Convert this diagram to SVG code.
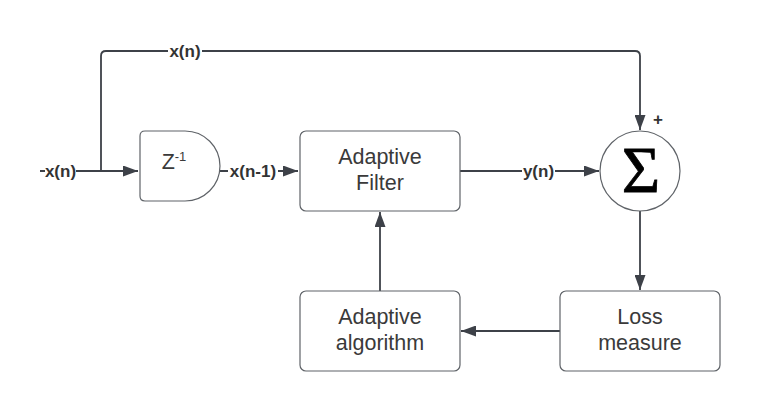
<svg xmlns="http://www.w3.org/2000/svg" width="760" height="411" viewBox="0 0 760 411">
<style>
.box{fill:#fff;stroke:#5f6368;stroke-width:1.2}
.t{font-family:"Liberation Sans",Arial,sans-serif;font-size:21.5px;fill:#3a3a3a;text-anchor:middle}
.lbl{font-family:"Liberation Sans",Arial,sans-serif;font-size:17px;font-weight:bold;fill:#333;text-anchor:middle}
.c{fill:none;stroke:#3d4148;stroke-width:1.8}
.bg{fill:#fff}
</style>
<defs>
<marker id="ah" markerWidth="16" markerHeight="11" refX="15" refY="5.5" orient="auto" markerUnits="userSpaceOnUse">
<path d="M0,0 L15,5.5 L0,11 Z" fill="#3d4148"/>
</marker>
</defs>
<rect width="760" height="411" fill="#fff"/>
<g id="connectors">
<path class="c" d="M40,171 L138,171" marker-end="url(#ah)"/>
<path class="c" d="M101,171 L101,56 Q101,51 106,51 L635,51 Q640,51 640,56 L640,130" marker-end="url(#ah)"/>
<path class="c" d="M220,171 L298,171" marker-end="url(#ah)"/>
<path class="c" d="M460,171 L599,171" marker-end="url(#ah)"/>
<path class="c" d="M640,211 L640,290" marker-end="url(#ah)"/>
<path class="c" d="M560,331 L461,331" marker-end="url(#ah)"/>
<path class="c" d="M380,291 L380,212" marker-end="url(#ah)"/>
<rect class="bg" x="45" y="160" width="31" height="22"/>
<text class="lbl" x="60.5" y="177">x(n)</text>
<rect class="bg" x="168" y="40" width="34" height="22"/>
<text class="lbl" x="185" y="57">x(n)</text>
<rect class="bg" x="228" y="160" width="50" height="22"/>
<text class="lbl" x="253" y="177">x(n-1)</text>
<rect class="bg" x="522" y="160" width="33" height="22"/>
<text class="lbl" x="538.5" y="177">y(n)</text>
<text class="lbl" x="658" y="125" font-size="15">+</text>
</g>
<g id="delay">
<path class="box" d="M145,131 L185,131 A35,35 0 0 1 185,201 L145,201 Q140,201 140,196 L140,136 Q140,131 145,131 Z"/>
<text class="t" x="174" y="169" font-size="19">Z<tspan font-size="13" dy="-8">-1</tspan></text>
</g>
<g id="adaptive-filter">
<rect class="box" x="300" y="131" width="160" height="80" rx="6"/>
<text class="t" x="380" y="164">Adaptive</text>
<text class="t" x="380" y="190">Filter</text>
</g>
<g id="sum">
<circle class="box" cx="640" cy="171" r="40" stroke-width="1"/>
<text x="641" y="192" font-family="Liberation Serif,Times New Roman,serif" font-size="66" fill="#000" stroke="#000" stroke-width="0.8" text-anchor="middle">Σ</text>
</g>
<g id="loss-measure">
<rect class="box" x="560" y="291" width="160" height="80" rx="6"/>
<text class="t" x="640" y="324">Loss</text>
<text class="t" x="640" y="350">measure</text>
</g>
<g id="adaptive-algorithm">
<rect class="box" x="300" y="291" width="160" height="80" rx="6"/>
<text class="t" x="380" y="324">Adaptive</text>
<text class="t" x="380" y="350">algorithm</text>
</g>
</svg>
